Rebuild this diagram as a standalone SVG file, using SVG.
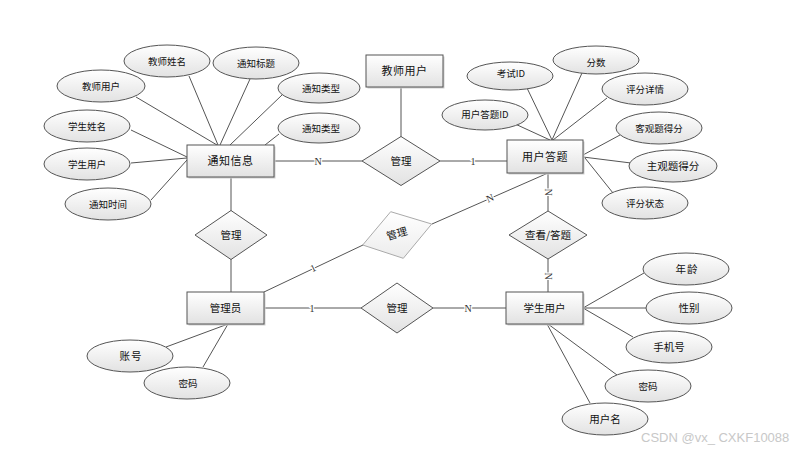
<svg xmlns="http://www.w3.org/2000/svg" width="799" height="451" viewBox="0 0 799 451">
<defs>
<linearGradient id="g" x1="0" y1="0" x2="0" y2="1">
<stop offset="0" stop-color="#ffffff"/>
<stop offset="1" stop-color="#e2e2e2"/>
</linearGradient>
<linearGradient id="g2" x1="0" y1="0" x2="0" y2="1">
<stop offset="0" stop-color="#ffffff"/>
<stop offset="1" stop-color="#ececec"/>
</linearGradient>
</defs>
<style>
.ln{stroke:#555;stroke-width:1;fill:none}
.e{fill:url(#g);stroke:#555;stroke-width:1}
.r{fill:url(#g);stroke:#555;stroke-width:1}
.sh{fill:#d0d0d0}
.d{fill:url(#g);stroke:#555;stroke-width:1}
.dg{fill:url(#g2);stroke:#aaa;stroke-width:1}
text{font-family:"Noto Sans CJK SC","Liberation Sans",sans-serif;fill:#111;text-anchor:middle}
.t9{font-size:9.5px}
.t10{font-size:10.5px}
.t11{font-size:11px}
.lb{font-family:"Liberation Serif",serif;font-size:10px;fill:#333;stroke:#fff;stroke-width:2.5px;paint-order:stroke}
.wm{font-family:"Liberation Sans",sans-serif;font-size:13px;fill:#c8c8c8;text-anchor:start}
</style>
<rect width="799" height="451" fill="#fff"/>
<g id="connectors">
<line class="ln" x1="136" y1="97" x2="217" y2="145"/>
<line class="ln" x1="189" y1="76" x2="218" y2="145"/>
<line class="ln" x1="250" y1="79" x2="220" y2="145"/>
<line class="ln" x1="282" y1="95" x2="230" y2="145"/>
<line class="ln" x1="279" y1="134" x2="265" y2="145"/>
<line class="ln" x1="131" y1="130" x2="187" y2="157"/>
<line class="ln" x1="131" y1="163" x2="187" y2="158"/>
<line class="ln" x1="151" y1="200" x2="187" y2="160"/>
<line class="ln" x1="274" y1="161" x2="362" y2="161"/>
<line class="ln" x1="231" y1="177" x2="231" y2="211"/>
<line class="ln" x1="231" y1="259" x2="231" y2="292"/>
<line class="ln" x1="401" y1="87" x2="401" y2="137"/>
<line class="ln" x1="440" y1="161" x2="507" y2="161"/>
<line class="ln" x1="527" y1="88" x2="552" y2="140"/>
<line class="ln" x1="582" y1="73" x2="552" y2="140"/>
<line class="ln" x1="607" y1="98" x2="553" y2="140"/>
<line class="ln" x1="513" y1="123" x2="550" y2="140"/>
<line class="ln" x1="620" y1="135" x2="583" y2="155"/>
<line class="ln" x1="631" y1="163" x2="583" y2="157"/>
<line class="ln" x1="613" y1="193" x2="585" y2="158"/>
<line class="ln" x1="548" y1="173" x2="548" y2="211"/>
<line class="ln" x1="548" y1="259" x2="548" y2="292"/>
<line class="ln" x1="548" y1="173" x2="432" y2="224"/>
<line class="ln" x1="264" y1="292" x2="363" y2="245"/>
<line class="ln" x1="264" y1="308" x2="361" y2="308"/>
<line class="ln" x1="433" y1="308" x2="506" y2="308"/>
<line class="ln" x1="166" y1="347" x2="228" y2="324"/>
<line class="ln" x1="203" y1="367" x2="228" y2="324"/>
<line class="ln" x1="644" y1="273" x2="583" y2="308"/>
<line class="ln" x1="646" y1="308" x2="583" y2="308"/>
<line class="ln" x1="633" y1="337" x2="583" y2="308"/>
<line class="ln" x1="617" y1="375" x2="548" y2="324"/>
<line class="ln" x1="590" y1="403" x2="547" y2="324"/>
<text class="lb" x="318" y="164.5">N</text>
<text class="lb" x="473" y="164.5">1</text>
<text class="lb" x="312" y="311.5">1</text>
<text class="lb" x="468" y="311.5">N</text>
<text class="lb" transform="translate(313,268) rotate(-25)" x="0" y="3.5">1</text>
<text class="lb" transform="translate(490,198) rotate(-23)" x="0" y="3.5">N</text>
<text class="lb" transform="translate(548,192) rotate(90)" x="0" y="3.5">N</text>
<text class="lb" transform="translate(548,276) rotate(90)" x="0" y="3.5">N</text>
</g>
<g id="n-tongzhixinxi"><rect class="sh" x="188.5" y="146.5" width="87" height="32"/><rect class="r" x="187" y="145" width="87" height="32"/><text class="t11" x="230.5" y="165" letter-spacing="0.5">通知信息</text></g>
<g id="n-jiaoshiyonghu"><rect class="sh" x="367.5" y="56.5" width="77" height="32"/><rect class="r" x="366" y="55" width="77" height="32"/><text class="t11" x="404.5" y="75" letter-spacing="0.5">教师用户</text></g>
<g id="n-yonghudati"><rect class="sh" x="508.5" y="141.5" width="76" height="33"/><rect class="r" x="507" y="140" width="76" height="33"/><text class="t11" x="545" y="160.5" letter-spacing="0.5">用户答题</text></g>
<g id="n-guanliyuan"><rect class="sh" x="188.5" y="293.5" width="77" height="32"/><rect class="r" x="187" y="292" width="77" height="32"/><text class="t10" x="225.5" y="312">管理员</text></g>
<g id="n-xueshengyonghu"><rect class="sh" x="507.5" y="293.5" width="77" height="32"/><rect class="r" x="506" y="292" width="77" height="32"/><text class="t10" x="544.5" y="312">学生用户</text></g>
<g id="d-guanli1"><polygon class="d" points="362,161 401,136.5 440,161 401,185.5"/><text class="t10" x="401" y="165">管理</text></g>
<g id="d-guanli2"><polygon class="d" points="195,235 231,210.5 267,235 231,259.5"/><text class="t10" x="231" y="239">管理</text></g>
<g id="d-chakan"><polygon class="d" points="509,235 548,211 587,235 548,259"/><text class="t10" x="548" y="239">查看/答题</text></g>
<g id="d-guanli3"><polygon class="d" points="361,308 397,283 433,308 397,333"/><text class="t10" x="397" y="312">管理</text></g>
<g id="d-guanli4"><polygon class="dg" points="390.7,211.7 431.7,224 403.3,258.3 362.7,245"/><text class="t10" transform="translate(397,234) rotate(-16)" x="0" y="3.5" fill="#333">管理</text></g>
<g id="a-jiaoshixingming"><ellipse class="e" cx="167" cy="61" rx="43" ry="16"/><text class="t9" x="167" y="65">教师姓名</text></g>
<g id="a-tongzhibiaoti"><ellipse class="e" cx="256" cy="63" rx="43" ry="16"/><text class="t9" x="256" y="67">通知标题</text></g>
<g id="a-jiaoshiyonghu"><ellipse class="e" cx="101" cy="86" rx="44" ry="16"/><text class="t9" x="101" y="90">教师用户</text></g>
<g id="a-tongzhileixing1"><ellipse class="e" cx="319" cy="88" rx="41" ry="15"/><text class="t9" x="321" y="92">通知类型</text></g>
<g id="a-tongzhileixing2"><ellipse class="e" cx="319" cy="128" rx="41" ry="15"/><text class="t9" x="321" y="132">通知类型</text></g>
<g id="a-xueshengxingming"><ellipse class="e" cx="87" cy="126" rx="43" ry="16"/><text class="t9" x="87" y="130">学生姓名</text></g>
<g id="a-xueshengyonghu"><ellipse class="e" cx="87" cy="164" rx="43" ry="16"/><text class="t9" x="87" y="168">学生用户</text></g>
<g id="a-tongzhishijian"><ellipse class="e" cx="108" cy="204" rx="43" ry="16"/><text class="t9" x="108" y="208">通知时间</text></g>
<g id="a-kaoshiid"><ellipse class="e" cx="510" cy="76" rx="43" ry="14"/><text class="t9" x="511" y="77">考试ID</text></g>
<g id="a-fenshu"><ellipse class="e" cx="596" cy="60" rx="43" ry="14"/><text class="t9" x="596" y="66">分数</text></g>
<g id="a-pingfenxiangqing"><ellipse class="e" cx="645" cy="89" rx="43" ry="16"/><text class="t9" x="645" y="93">评分详情</text></g>
<g id="a-yonghudatiid"><ellipse class="e" cx="485" cy="115" rx="43" ry="15"/><text class="t9" x="485" y="118">用户答题ID</text></g>
<g id="a-keguantidefen"><ellipse class="e" cx="659" cy="128" rx="43" ry="16"/><text class="t9" x="659" y="132">客观题得分</text></g>
<g id="a-zhuguantidefen"><ellipse class="e" cx="673" cy="166" rx="44" ry="16"/><text class="t10" x="673" y="170">主观题得分</text></g>
<g id="a-pingfenzhuangtai"><ellipse class="e" cx="645" cy="203" rx="43" ry="16"/><text class="t9" x="645" y="207">评分状态</text></g>
<g id="a-zhanghao"><ellipse class="e" cx="130" cy="356" rx="43" ry="16"/><text class="t10" x="131" y="360" letter-spacing="1">账号</text></g>
<g id="a-mima1"><ellipse class="e" cx="187" cy="383" rx="43" ry="16"/><text class="t9" x="188" y="387">密码</text></g>
<g id="a-nianling"><ellipse class="e" cx="686" cy="269" rx="43" ry="16"/><text class="t10" x="687" y="273" letter-spacing="1">年龄</text></g>
<g id="a-xingbie"><ellipse class="e" cx="689" cy="308" rx="43" ry="16"/><text class="t10" x="689" y="312">性别</text></g>
<g id="a-shoujihao"><ellipse class="e" cx="669" cy="347" rx="43" ry="16"/><text class="t10" x="669" y="351">手机号</text></g>
<g id="a-mima2"><ellipse class="e" cx="648" cy="386" rx="43" ry="16"/><text class="t9" x="648" y="390">密码</text></g>
<g id="a-yonghuming"><ellipse class="e" cx="605" cy="419" rx="43" ry="16"/><text class="t10" x="605" y="423">用户名</text></g>
<text class="wm" x="641" y="442">CSDN @vx_ CXKF10088</text>
</svg>
